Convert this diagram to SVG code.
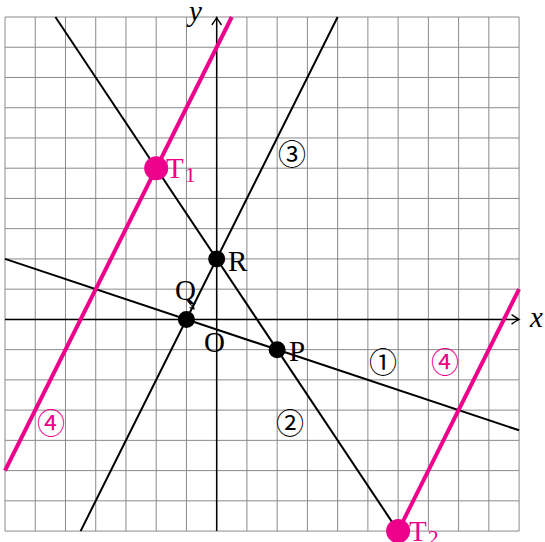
<svg xmlns="http://www.w3.org/2000/svg" width="545" height="542" viewBox="0 0 545 542">
<style>
.grid{stroke:#8a8a8a;stroke-width:1;fill:none}
.ln{stroke:#000;stroke-width:2;fill:none}
.mg{stroke:#ec008c;stroke-width:4;fill:none}
.ax{stroke:#000;stroke-width:1.5;fill:none}
.lbl{font-family:"Liberation Serif",serif;font-size:29px;fill:#000}
.it{font-style:italic}
.cn{font-family:"Noto Sans CJK JP",sans-serif;font-size:28px;text-anchor:middle}
.bk{fill:#000}
.pk{fill:#ec008c}
</style>
<defs>
<marker id="arr" markerWidth="12" markerHeight="12" refX="0" refY="0" viewBox="-8 -6 10 12" orient="auto" markerUnits="userSpaceOnUse">
<path d="M-7,-4.5 Q-2,-1 0,0 Q-2,1 -7,4.5" fill="none" stroke="#000" stroke-width="1.4" stroke-linecap="round"/>
</marker>
<marker id="sarr" markerWidth="8" markerHeight="8" refX="0" refY="0" viewBox="-5 -4 6 8" orient="auto" markerUnits="userSpaceOnUse">
<path d="M-4,-2.5 Q-1,-0.5 0,0 Q-1,0.5 -4,2.5" fill="none" stroke="#000" stroke-width="1"/>
</marker>
</defs>
<rect width="545" height="542" fill="#fff"/>
<g id="grid" class="grid">
<path d="M5,17V531.08M35.24,17V531.08M65.48,17V531.08M95.72,17V531.08M125.96,17V531.08M156.2,17V531.08M186.44,17V531.08M216.68,17V531.08M246.92,17V531.08M277.16,17V531.08M307.4,17V531.08M337.64,17V531.08M367.88,17V531.08M398.12,17V531.08M428.36,17V531.08M458.6,17V531.08M488.84,17V531.08M519.08,17V531.08"/>
<path d="M5,17H519.08M5,47.24H519.08M5,77.48H519.08M5,107.72H519.08M5,137.96H519.08M5,168.2H519.08M5,198.44H519.08M5,228.68H519.08M5,258.92H519.08M5,289.16H519.08M5,319.4H519.08M5,349.64H519.08M5,379.88H519.08M5,410.12H519.08M5,440.36H519.08M5,470.6H519.08M5,500.84H519.08M5,531.08H519.08"/>
</g>
<g id="axes">
<line class="ax" x1="5" y1="319.4" x2="519" y2="319.4" marker-end="url(#arr)"/>
<line class="ax" x1="216.68" y1="531.08" x2="216.68" y2="17.5" marker-end="url(#arr)"/>
<text class="lbl it" x="530" y="327">x</text>
<text class="lbl it" x="189" y="21">y</text>
</g>
<g id="connectors">
<line id="line1" class="ln" x1="5" y1="258.92" x2="519.08" y2="430.28"/>
<line id="line2" class="ln" x1="55.4" y1="17" x2="398.12" y2="531.08"/>
<line id="line3" class="ln" x1="337.64" y1="17" x2="80.6" y2="531.08"/>
<line id="line4a" class="mg" x1="231.8" y1="17" x2="5" y2="470.6"/>
<line id="line4b" class="mg" x1="398.12" y1="531.08" x2="519.08" y2="289.16"/>
<line id="q-leader" stroke="#000" stroke-width="1" x1="186" y1="299" x2="194" y2="309" marker-end="url(#sarr)"/>
</g>
<g id="Q"><circle class="bk" cx="186.44" cy="319.4" r="8.5"/><text class="lbl" x="175" y="300">Q</text></g>
<g id="O"><text class="lbl" x="204" y="352">O</text></g>
<g id="R"><circle class="bk" cx="216.68" cy="258.92" r="8.5"/><text class="lbl" x="228" y="271">R</text></g>
<g id="P"><circle class="bk" cx="277.16" cy="349.64" r="8.5"/><text class="lbl" x="289" y="361">P</text></g>
<g id="T1"><circle class="pk" cx="156.2" cy="168.2" r="12"/><text class="lbl pk" x="166" y="178">T<tspan font-size="22" dx="1" dy="4">1</tspan></text></g>
<g id="T2"><circle class="pk" cx="398.12" cy="531.08" r="12"/><text class="lbl pk" x="409" y="541">T<tspan font-size="22" dx="1" dy="4">2</tspan></text></g>
<g id="labels">
<text class="cn" x="383" y="373">①</text>
<text class="cn" x="290" y="434">②</text>
<text class="cn" x="292" y="165">③</text>
<text class="cn pk" x="445" y="373">④</text>
<text class="cn pk" x="51" y="434">④</text>
</g>
</svg>
